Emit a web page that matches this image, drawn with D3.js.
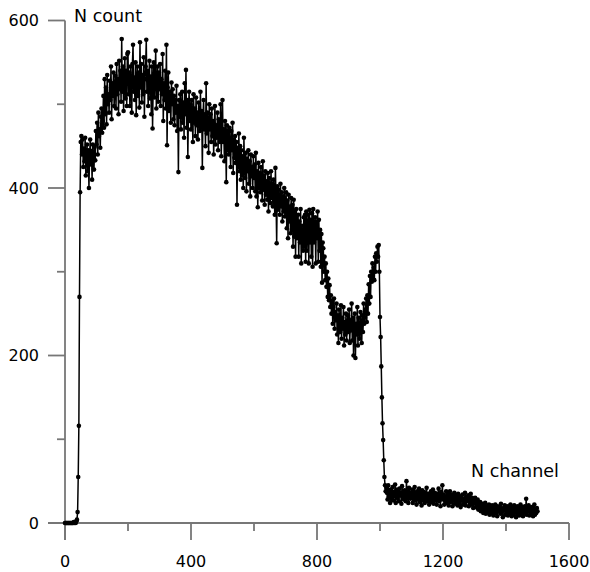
<!DOCTYPE html>
<html>
<head>
<meta charset="utf-8">
<script src="https://cdn.jsdelivr.net/npm/d3@7"></script>
<style>
  html, body { margin: 0; padding: 0; background: #fff; }
  text { font-family: "DejaVu Sans", Verdana, sans-serif; fill: #000; }
</style>
</head>
<body>
<svg id="chart" width="590" height="572"></svg>
<script>
// Channel step between samples
const channelStep = 2;
// Counts, one array per 100 channels
const counts0000 = [0,0,0,0,0,0,0,0,0,0, 0,0,0,0,1,0,1,0,2,4, 13,55,116,270,395,455,462,440,458,425, 447,432,460,415,438,452,420,445,400,436, 458,428,444,410,452,437,422,449,433,468];
const counts0100 = [452,478,440,490,462,470,448,485,495,466, 480,510,472,530,488,520,476,535,500,512, 490,528,505,545,482,525,510,538,498,520, 534,495,548,512,530,488,552,518,540,503, 578,515,545,492,530,555,507,540,498,560];
const counts0200 = [562,512,538,498,545,520,490,548,571,515, 532,505,550,487,528,545,510,538,496,574, 520,548,502,535,512,556,485,530,545,577, 515,540,498,528,552,507,533,488,545,471, 525,550,508,536,564,495,522,545,503,538];
const counts0300 = [518,548,498,530,512,560,480,525,505,540, 495,571,451,520,538,492,515,505,478,526, 500,518,482,510,475,505,490,522,468,498, 419,505,485,512,470,495,515,478,502,460, 525,488,541,472,505,437,495,515,480,500];
const counts0400 = [470,505,485,455,512,478,495,462,508,475, 490,458,502,480,468,515,472,492,424,485, 505,470,488,450,525,465,490,478,442,500, 470,488,455,495,462,480,440,476,498,452, 475,460,490,445,482,468,455,500,438,470];
const counts0500 = [505,455,470,432,480,462,407,475,445,468, 440,472,450,425,468,445,478,418,458,436, 462,430,455,380,448,425,465,420,450,410, 445,415,438,400,460,424,412,442,396,435, 420,445,405,432,390,440,414,425,400,438];
const counts0600 = [412,428,396,442,390,420,377,430,400,418, 395,425,405,385,432,398,415,380,420,392, 408,386,418,372,412,394,382,420,388,405, 378,410,392,368,424,385,334,402,374,398, 382,368,405,378,395,360,390,372,400,366];
const counts0700 = [378,395,352,385,340,392,360,378,346,388, 350,380,330,386,342,372,318,375,340,360, 368,318,360,335,375,310,355,342,325,365, 330,368,312,372,325,355,368,310,374,335, 362,318,370,306,375,335,350,365,310,360];
const counts0800 = [340,372,312,362,325,350,306,345,287,335, 328,300,318,290,310,282,300,270,292,266, 284,258,272,250,265,238,258,268,232,252, 242,262,225,248,215,255,238,228,260,220, 245,232,258,212,240,225,250,218,236,248];
const counts0900 = [228,255,215,242,230,262,218,245,200,235, 250,197,238,225,258,212,245,232,220,252, 235,215,248,228,262,238,245,255,268,240, 272,250,285,262,295,270,300,288,310,292, 305,290,318,300,322,312,330,318,332,300];
const counts1000 = [246,222,187,150,119,99,75,55,45,38, 42,36,28,45,31,38,24,40,34,29, 43,27,37,32,46,24,35,40,30,38, 26,41,33,36,23,44,31,37,28,39, 34,26,50,30,38,24,42,33,29,36];
const counts1100 = [31,40,24,36,29,43,27,35,22,38, 33,28,41,25,36,30,21,39,32,27, 37,24,34,29,42,26,31,35,22,33, 28,38,25,32,40,23,30,36,27,34, 22,35,29,41,26,33,20,37,31,45];
const counts1200 = [28,34,22,31,26,38,24,30,35,21, 32,38,25,29,34,20,31,27,36,23, 30,26,33,21,35,28,24,32,19,30, 27,34,22,29,25,36,21,31,26,28, 33,20,29,24,35,22,30,26,18,27];
const counts1300 = [24,30,19,26,22,28,16,23,20,25, 14,21,17,23,12,19,15,24,11,18, 20,13,17,22,10,16,19,12,21,14, 9,18,15,22,12,17,8,20,14,16, 19,11,23,13,16,7,18,15,21,10];
const counts1400 = [17,12,20,9,15,18,11,22,14,8, 16,19,10,21,13,17,7,15,20,12, 18,9,14,22,11,16,19,8,15,13, 20,12,29,10,17,14,21,9,16,18, 11,19,13,8,17,22,10,15,12,18, 14];

const xTicks = [0, 400, 800, 1200, 1600];
const xMinor = [200, 600, 1000, 1400];
const yTicks = [0, 200, 400, 600];
const yMinor = [100, 300, 500];
const xTitle = "N channel";
const yTitle = "N count";

const counts = [].concat(counts0000, counts0100, counts0200, counts0300, counts0400,
  counts0500, counts0600, counts0700, counts0800, counts0900, counts1000,
  counts1100, counts1200, counts1300, counts1400);
const data = counts.map((v, i) => ({ ch: i * channelStep, n: v }));

const svg = d3.select("#chart");
const x = d3.scaleLinear().domain([0, 1600]).range([65, 569]);
const y = d3.scaleLinear().domain([0, 600]).range([523, 20.5]);
const axisColor = "#777";

// X axis
const gx = svg.append("g").attr("transform", `translate(0,${y(0)})`);
gx.append("line").attr("x1", 48).attr("x2", x(1600)).attr("y1", 0).attr("y2", 0)
  .attr("stroke", axisColor).attr("stroke-width", 1.8);
gx.selectAll(".maj").data(xTicks).join("line")
  .attr("x1", d => x(d)).attr("x2", d => x(d)).attr("y1", 0).attr("y2", 17)
  .attr("stroke", axisColor).attr("stroke-width", 1.8);
gx.selectAll(".min").data(xMinor).join("line")
  .attr("x1", d => x(d)).attr("x2", d => x(d)).attr("y1", 0).attr("y2", 8)
  .attr("stroke", axisColor).attr("stroke-width", 1.8);
gx.selectAll("text").data(xTicks).join("text")
  .attr("x", d => x(d)).attr("y", 44).attr("text-anchor", "middle")
  .attr("font-size", 16).text(d => d);

// Y axis
const gy = svg.append("g").attr("transform", `translate(${x(0)},0)`);
gy.append("line").attr("x1", 0).attr("x2", 0).attr("y1", y(600)).attr("y2", 540)
  .attr("stroke", axisColor).attr("stroke-width", 1.8);
gy.selectAll(".maj").data(yTicks).join("line")
  .attr("x1", -17).attr("x2", 0).attr("y1", d => y(d)).attr("y2", d => y(d))
  .attr("stroke", axisColor).attr("stroke-width", 1.8);
gy.selectAll(".min").data(yMinor).join("line")
  .attr("x1", -8).attr("x2", 0).attr("y1", d => y(d)).attr("y2", d => y(d))
  .attr("stroke", axisColor).attr("stroke-width", 1.8);
gy.selectAll("text").data(yTicks).join("text")
  .attr("x", -26).attr("y", d => y(d)).attr("dy", "0.36em").attr("text-anchor", "end")
  .attr("font-size", 16).text(d => d);

// Titles
svg.append("text").attr("x", 74).attr("y", 22).attr("font-size", 17.5).text(yTitle);
svg.append("text").attr("x", 471).attr("y", 477).attr("font-size", 17.5).text(xTitle);

// Data line
const line = d3.line().x(d => x(d.ch)).y(d => y(d.n));
svg.append("path").datum(data).attr("d", line)
  .attr("fill", "none").attr("stroke", "#000").attr("stroke-width", 1.5);
svg.append("g").selectAll("circle").data(data).join("circle")
  .attr("cx", d => x(d.ch)).attr("cy", d => y(d.n)).attr("r", 2.3).attr("fill", "#000");
</script>
</body>
</html>
